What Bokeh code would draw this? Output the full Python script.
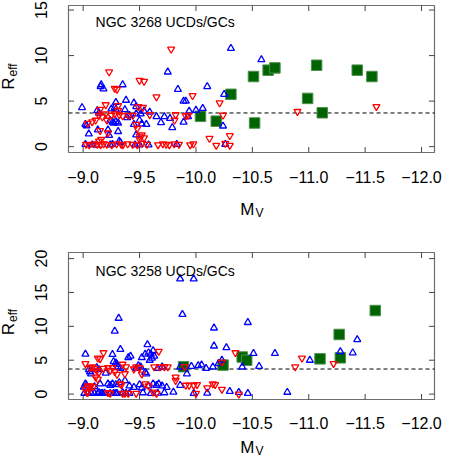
import math
from bokeh.plotting import figure
from bokeh.models import Range1d, Label
from bokeh.layouts import column
from bokeh.embed import file_html
from bokeh.resources import INLINE

FONT = "Liberation Sans"

# ---------------- data ----------------
x_ticks = [-9.0, -9.5, -10.0, -10.5, -11.0, -11.5, -12.0]
x_tick_labels = ["\u22129.0", "\u22129.5", "\u221210.0", "\u221210.5", "\u221211.0", "\u221211.5", "\u221212.0"]
top_y_ticks = [0, 5, 10, 15]
bot_y_ticks = [0, 5, 10, 15, 20]
reff_limit = 3.7

top_title = "NGC 3268 UCDs/GCs"
bot_title = "NGC 3258 UCDs/GCs"

# NGC 3268 - blue (up triangles)
top_blue_mv = [-8.99, -9.02, -9.03, -9.05, -9.02, -9.08, -9.12, -9.155, -9.16, -9.18, -9.125, -9.14, -9.13, -9.22,
               -9.23, -9.25, -9.28, -9.29, -9.29, -9.24, -9.26, -9.27, -9.29, -9.24, -9.26, -9.31, -9.31, -9.32,
               -9.33, -9.35, -9.38, -9.37, -9.39, -9.41, -9.45, -9.47, -9.45, -9.47, -9.47, -9.50, -9.51, -9.46,
               -9.50, -9.52, -9.56, -9.54, -9.59, -9.58, -9.65, -9.69, -9.72, -9.75, -9.77, -9.79, -9.83, -9.84,
               -9.89, -9.91, -9.89, -9.93, -9.94, -10.0, -10.06, -10.1, -10.25, -10.24, -10.26, -10.31, -10.58]
top_blue_reff = [4.3, 2.45, 2.3, 1.4, 0.25, 0.2, 0.2, 6.6, 6.8, 6.35, 3.95, 3.7, 1.85, 1.85,
                 1.25, 4.15, 4.3, 4.86, 4.1, 2.9, 2.7, 2.6, 2.75, 0.2, 0.25, 2.6, 1.67, 0.6,
                 0.45, 6.8, 5.1, 4.06, 3.2, 3.45, 4.8, 4.4, 2.45, 3.6, 1.3, 2.9, 3.6, 0.2,
                 0.2, 2.5, 2.45, 3.9, 3.8, 0.2, 3.3, 2.65, 3.3, 8.2, 3.1, 2.1, 0.25, 6.3,
                 5.0, 5.0, 2.7, 3.3, 3.9, 4.0, 4.2, 6.6, 5.75, 2.27, 0.25, 10.8, 9.55]

# NGC 3268 - red (down triangles)
top_red_mv = [-9.78, -9.23, -9.50, -9.54, -9.28, -9.30, -9.65, -9.97, -10.21, -9.20, -9.31, -9.49, -9.53, -9.15,
              -9.04, -9.08, -9.11, -9.14, -9.17, -9.20, -9.21, -9.25, -9.28, -9.31, -9.32, -9.35, -9.40, -9.44,
              -9.59, -9.82, -9.91, -9.93, -9.81, -9.15, -9.22, -9.47, -9.48, -9.52, -9.50, -9.54, -9.50, -9.14,
              -9.16, -9.026, -9.054, -9.097, -9.125, -9.154, -9.182, -9.21, -9.253, -9.296, -9.338, -9.352,
              -9.395, -9.438, -9.48, -9.523, -9.566, -9.664, -9.707, -9.736, -9.764, -9.807, -9.849, -9.949,
              -9.977, -10.12, -10.18, -10.26, -10.30, -10.30, -10.24, -10.90, -11.60]
top_red_reff = [10.7, 8.2, 7.27, 7.16, 6.4, 6.3, 5.46, 5.6, 4.8, 4.6, 4.5, 4.4, 4.3, 4.1,
                2.55, 2.73, 2.9, 3.44, 3.26, 3.6, 2.9, 3.44, 3.6, 3.97, 3.5, 3.37, 3.44, 3.44,
                3.5, 3.5, 3.37, 3.44, 2.9, 1.75, 1.5, 2.45, 2.0, 1.3, 1.15, 0.96, 0.78, 0.6,
                0.8, 0.25, 0.2, 0.3, 0.25, 0.2, 0.3, 0.25, 0.2, 0.3, 0.25, 0.2,
                0.3, 0.25, 0.2, 0.35, 0.25, 0.2, 0.3, 0.25, 0.2, 0.3, 0.25, 0.2,
                0.3, 0.9, 0.14, 0.35, 0.14, 1.2, 3.45, 3.86, 4.4]

# NGC 3268 - green squares
top_green_mv = [-10.04, -10.18, -10.31, -10.51, -10.64, -10.70, -10.52, -10.99, -11.07, -11.12, -11.43, -11.56]
top_green_reff = [3.33, 2.8, 5.75, 7.7, 8.4, 8.65, 2.6, 5.3, 8.94, 3.72, 8.4, 7.7]

# NGC 3258 - blue (up triangles)
bot_blue_mv = [-9.86, -9.98, -9.88, -9.315, -9.28, -9.33, -9.02, -9.26, -9.57, -9.58, -9.60, -9.62, -9.63, -9.59,
               -9.61, -9.40, -9.42, -9.52, -9.55, -9.27, -9.29, -9.30, -9.31, -9.33, -9.05, -9.06, -9.07, -9.12,
               -9.14, -9.20, -9.55, -9.56, -9.006, -9.02, -9.03, -9.10, -9.15, -9.22, -9.24, -9.26, -9.29, -9.32,
               -9.37, -9.41, -9.45, -9.01, -9.04, -9.07, -9.10, -9.13, -9.14, -9.16, -9.17, -9.19, -9.24, -9.27,
               -9.29, -9.30, -9.35, -9.38, -9.41, -9.53, -9.60, -9.66, -9.72, -9.80, -9.98, -10.10, -9.50, -9.58,
               -9.62, -9.65, -9.67, -9.70, -9.74, -9.86, -9.52, -9.49, -9.51, -9.47, -9.66, -9.70, -9.86, -9.92,
               -9.96, -10.02, -10.05, -10.09, -10.16, -10.16, -10.27, -10.51, -10.70, -10.23, -10.41, -10.56,
               -11.01, -11.28, -11.39, -11.43, -10.30, -10.38, -10.46, -10.81, -10.15, -10.46, -10.20]
bot_blue_reff = [17.0, 17.0, 11.76, 11.2, 9.3, 6.6, 5.9, 5.85, 7.3, 6.1, 5.9, 6.4, 5.6, 5.0,
                 5.3, 5.4, 5.6, 5.4, 5.9, 4.8, 4.6, 4.4, 4.0, 3.8, 3.6, 3.3, 3.0, 3.9,
                 3.6, 3.1, 3.2, 3.0, 1.04, 1.5, 1.2, 1.1, 1.5, 1.5, 1.3, 1.5, 1.4, 1.7,
                 2.0, 1.2, 1.0, 0.1, 0.1, 0.15, 0.1, 0.1, 0.2, 0.1, 0.1, 0.15, 0.1, 0.1,
                 0.1, 0.1, 0.2, 0.1, 0.1, 0.2, 0.1, 0.15, 0.2, 0.3, 0.1, 0.15, 1.4, 1.2,
                 1.5, 1.3, 1.5, 1.2, 1.0, 1.3, 0.9, 4.2, 4.0, 3.8, 3.8, 4.0, 4.0, 3.0,
                 4.1, 4.2, 4.3, 3.8, 9.76, 7.1, 6.85, 6.0, 6.0, 5.0, 4.0, 4.1,
                 5.0, 6.27, 6.1, 8.04, 0.4, 0.25, 0.1, 0.27, 4.0, 10.57, 4.5]

# NGC 3258 - red (down triangles)
bot_red_mv = [-9.02, -9.18, -9.13, -9.15, -9.08, -9.10, -9.06, -9.12, -9.14, -9.18, -9.22, -9.26, -9.24, -9.28,
              -9.30, -9.37, -9.35, -9.38, -9.45, -9.47, -9.50, -9.52, -9.13, -9.11, -9.04, -9.05, -9.07, -9.09,
              -9.02, -9.03, -9.04, -9.22, -9.24, -9.33, -9.34, -9.35, -9.37, -9.40, -9.47, -9.55, -9.58, -9.62,
              -9.65, -9.67, -9.63, -9.68, -9.72, -9.75, -9.82, -9.82, -9.90, -9.91, -9.94, -9.98, -10.01, -10.0,
              -10.17, -10.10, -10.35, -10.23, -10.23, -10.15, -10.38, -10.94, -10.88, -11.22]
bot_red_reff = [4.5, 6.1, 5.3, 5.2, 4.0, 3.8, 3.9, 3.5, 3.2, 3.8, 3.9, 3.9, 3.5, 3.3,
                2.9, 3.0, 4.4, 4.0, 3.7, 4.0, 3.9, 2.95, 2.2, 2.5, 1.2, 1.1, 1.2, 1.1,
                0.7, 0.3, 0.2, 0.2, 0.1, 1.5, 1.4, 0.1, 0.1, 0.1, 0.1, 1.5, 1.2, 0.3,
                0.1, 6.3, 4.0, 4.0, 4.0, 4.0, 2.5, 2.0, 4.04, 1.3, 1.3, 1.3, 1.4, 0.1,
                1.4, 0.9, 6.1, 4.7, 0.7, 1.5, 0.0, 5.3, 4.0, 4.5]

# NGC 3258 - green squares
bot_green_mv = [-9.89, -10.24, -10.41, -10.45, -11.10, -11.28, -11.27, -11.59]
bot_green_reff = [4.04, 4.28, 5.47, 5.0, 5.2, 5.35, 8.8, 12.33]

X_START, X_END = -8.87, -12.115

# ---------------- layout (pixels) ----------------
W = 442
BOX_L, BOX_R = 68, 434
TICK = 5.5
BOX_COLOR = "#6e6e6e"
TICK_COLOR = "#444444"
TICK_FONT = "16px"


def txt(p, **kw):
    base = dict(text_font=FONT, text_color="black", text_baseline="middle", text_align="center")
    base.update(kw)
    p.add_layout(Label(**base))


def make_panel(height, box_top, box_bottom, y_start, y_end, y_ticks,
               blue, red, green, title, title_y, rlabel_y, tick_off, mlabel_off):
    xpx = (BOX_R - BOX_L) / (X_START - X_END)
    ypx = (box_bottom - box_top) / (y_end - y_start)
    xr0 = X_START + BOX_L / xpx
    xr1 = X_END - (W - BOX_R) / xpx
    yr1 = y_end + box_top / ypx
    yr0 = y_start - (height - box_bottom) / ypx

    p = figure(width=W, height=height, output_backend="svg", toolbar_location=None,
               title=None, x_range=Range1d(xr0, xr1), y_range=Range1d(yr0, yr1),
               min_border=0, min_border_left=0, min_border_right=0,
               min_border_top=0, min_border_bottom=0)
    p.xgrid.visible = False
    p.ygrid.visible = False
    p.xaxis.visible = False
    p.yaxis.visible = False
    p.outline_line_color = None
    p.background_fill_color = "white"
    p.border_fill_color = "white"

    nx, ny = len(x_ticks), len(y_ticks)
    # box
    p.quad(left=[X_START], right=[X_END], bottom=[y_start], top=[y_end],
           fill_color=None, line_color=BOX_COLOR, line_width=1.2)
    # inward ticks on all four sides
    p.segment(x0=x_ticks, y0=[y_start] * nx, x1=x_ticks, y1=[y_start + TICK / ypx] * nx,
              line_color=TICK_COLOR, line_width=1)
    p.segment(x0=x_ticks, y0=[y_end] * nx, x1=x_ticks, y1=[y_end - TICK / ypx] * nx,
              line_color=TICK_COLOR, line_width=1)
    p.segment(x0=[X_START] * ny, y0=y_ticks, x1=[X_START - TICK / xpx] * ny, y1=y_ticks,
              line_color=TICK_COLOR, line_width=1)
    p.segment(x0=[X_END] * ny, y0=y_ticks, x1=[X_END + TICK / xpx] * ny, y1=y_ticks,
              line_color=TICK_COLOR, line_width=1)

    # tick labels
    for t, lab in zip(x_ticks, x_tick_labels):
        txt(p, x=t, y=y_start, y_offset=-tick_off, text=lab, text_font_size=TICK_FONT)
    for t in y_ticks:
        txt(p, x=X_START, y=t, x_offset=-28, text=str(t), angle=math.pi / 2, text_font_size=TICK_FONT)

    # dashed reference line
    p.line(x=[X_START, X_END], y=[reff_limit, reff_limit], line_color="black",
           line_width=1, line_dash="4 3")

    gx, gy = green
    p.scatter(gx, gy, marker="square", size=10.5, fill_color="#006400",
              line_color="#4f8f4f", line_width=1)
    bx, by = blue
    p.scatter(bx, by, marker="triangle", size=7, fill_color=None,
              line_color="#0000ff", line_width=1.3)
    rx, ry = red
    p.scatter(rx, ry, marker="inverted_triangle", size=7, fill_color=None,
              line_color="#ff0000", line_width=1.3)

    txt(p, x=-9.11, y=title_y, text=title, text_font_size="14px", text_align="left")

    # y-axis label R_eff
    txt(p, x=X_START, y=rlabel_y, x_offset=-60, text="R", angle=math.pi / 2,
        text_font_size="17px", text_align="right")
    txt(p, x=X_START, y=rlabel_y, x_offset=-56, y_offset=1, text="eff", angle=math.pi / 2,
        text_font_size="12px", text_align="left")
    # x-axis label M_V
    txt(p, x=-10.518, y=y_start, y_offset=-mlabel_off, text="M",
        text_font_size="17px", text_align="right")
    txt(p, x=-10.518, y=y_start, y_offset=-mlabel_off - 3, x_offset=1, text="V",
        text_font_size="12px", text_align="left")
    return p


p_top = make_panel(226, 5, 152, -0.64, 15.5, top_y_ticks,
                   (top_blue_mv, top_blue_reff), (top_red_mv, top_red_reff),
                   (top_green_mv, top_green_reff), top_title, 13.65, 7.6, 24, 57)
p_bot = make_panel(231, 26, 173, -0.8, 20.9, bot_y_ticks,
                   (bot_blue_mv, bot_blue_reff), (bot_red_mv, bot_red_reff),
                   (bot_green_mv, bot_green_reff), bot_title, 18.2, 10.5, 23, 48)

layout = column(p_top, p_bot, spacing=0)
open("out.html", "w").write(file_html(layout, INLINE))
